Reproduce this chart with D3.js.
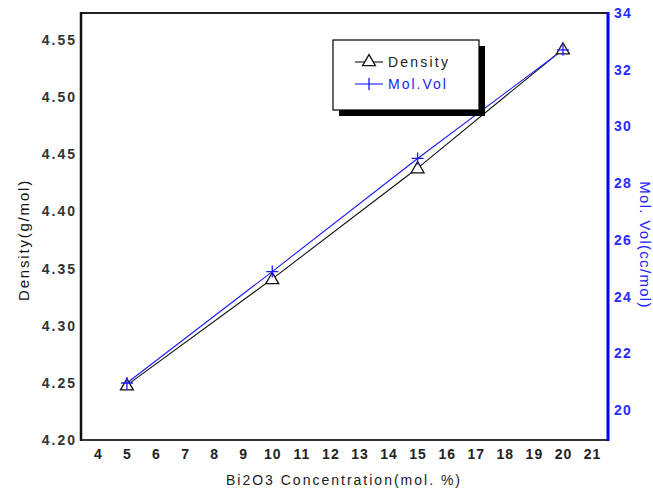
<!DOCTYPE html>
<html>
<head>
<meta charset="utf-8">
<script src="https://cdnjs.cloudflare.com/ajax/libs/d3/7.8.5/d3.min.js"></script>
<style>
  body { margin: 0; background: #fff; }
  svg { display: block; font-family: Arial, "Liberation Sans", sans-serif; }
</style>
</head>
<body>
<svg width="653" height="491"></svg>
<script>
// data
let concentration = [5, 10, 15, 20];
let density = [4.248, 4.341, 4.438, 4.542];
let molVol = [20.95, 24.88, 28.87, 32.70];
let xTicks = [4, 5, 6, 7, 8, 9, 10, 11, 12, 13, 14, 15, 16, 17, 18, 19, 20, 21];
let leftTicks = [4.20, 4.25, 4.30, 4.35, 4.40, 4.45, 4.50, 4.55];
let rightTicks = [20, 22, 24, 26, 28, 30, 32, 34];

let margin = {top: 13, right: 45, bottom: 51, left: 81};
let width = 653 - margin.left - margin.right;
let height = 491 - margin.top - margin.bottom;

var svg = d3.select("svg");
var g = svg.append("g").attr("transform", "translate(" + margin.left + "," + margin.top + ")");

var x = d3.scaleLinear().domain([3.42, 21.55]).range([0, width]);
var yL = d3.scaleLinear().domain([4.2, 4.5737]).range([height, 0]);
var yR = d3.scaleLinear().domain([18.94, 34]).range([height, 0]);

// axes, no tick marks
var xAxis = g.append("g")
  .attr("transform", "translate(0," + height + ")")
  .call(d3.axisBottom(x).tickValues(xTicks).tickSize(0).tickPadding(9).tickFormat(d3.format("d")));
xAxis.select(".domain").remove();
xAxis.selectAll("text").attr("font-size", 14).attr("font-weight", "bold").attr("fill", "#222")
  .attr("letter-spacing", 1).attr("font-family", "Arial, Liberation Sans");

var lAxis = g.append("g")
  .call(d3.axisLeft(yL).tickValues(leftTicks).tickSize(0).tickPadding(4).tickFormat(d3.format(".2f")));
lAxis.select(".domain").remove();
lAxis.selectAll("text").attr("font-size", 14).attr("font-weight", "bold").attr("fill", "#333")
  .attr("letter-spacing", 2).attr("font-family", "Arial, Liberation Sans");

var rAxis = g.append("g")
  .attr("transform", "translate(" + width + ",0)")
  .call(d3.axisRight(yR).tickValues(rightTicks).tickSize(0).tickPadding(6));
rAxis.select(".domain").remove();
rAxis.selectAll("text").attr("font-size", 14).attr("font-weight", "bold").attr("fill", "#2a2aff")
  .attr("letter-spacing", 1.2).attr("font-family", "Arial, Liberation Sans");

// frame
g.append("line").attr("x1", 0).attr("x2", width).attr("y1", 0).attr("y2", 0)
  .attr("stroke", "#222").attr("stroke-width", 2);
g.append("line").attr("x1", 0).attr("x2", width).attr("y1", height).attr("y2", height)
  .attr("stroke", "#333").attr("stroke-width", 2);
g.append("line").attr("x1", 0).attr("x2", 0).attr("y1", -1).attr("y2", height + 1)
  .attr("stroke", "#111").attr("stroke-width", 2.5);
g.append("line").attr("x1", width).attr("x2", width).attr("y1", -1).attr("y2", height + 1)
  .attr("stroke", "#0000ff").attr("stroke-width", 3);

// lines
var densLine = d3.line()
  .x(function(d, i) { return x(concentration[i]); })
  .y(function(d) { return yL(d); });
var volLine = d3.line()
  .x(function(d, i) { return x(concentration[i]); })
  .y(function(d) { return yR(d); });

g.append("path").datum(density)
  .attr("fill", "none").attr("stroke", "#111").attr("stroke-width", 1.1)
  .attr("d", densLine);
g.append("path").datum(molVol)
  .attr("fill", "none").attr("stroke", "#1a1aff").attr("stroke-width", 1.1)
  .attr("d", volLine);

var tri = d3.symbol().type(d3.symbolTriangle).size(72);

g.selectAll("path.tri").data(density).enter().append("path")
  .attr("class", "tri")
  .attr("transform", function(d, i) { return "translate(" + x(concentration[i]) + "," + (yL(d) + 1) + ")"; })
  .attr("d", tri)
  .attr("fill", "#fff").attr("stroke", "#111").attr("stroke-width", 1.3);

g.selectAll("path.plus").data(molVol).enter().append("path")
  .attr("class", "plus")
  .attr("transform", function(d, i) { return "translate(" + x(concentration[i]) + "," + yR(d) + ")"; })
  .attr("d", "M-6,0H6M0,-6V6")
  .attr("fill", "none").attr("stroke", "#1a1aff").attr("stroke-width", 1.3);

// axis titles
svg.append("text")
  .attr("transform", "translate(29,240) rotate(-90)")
  .attr("text-anchor", "middle").attr("font-size", 15).attr("fill", "#111")
  .attr("letter-spacing", 1.8)
  .text("Density(g/mol)");
svg.append("text")
  .attr("transform", "translate(640,245) rotate(90)")
  .attr("text-anchor", "middle").attr("font-size", 15).attr("fill", "#2222ff")
  .attr("letter-spacing", 1.3)
  .text("Mol. Vol(cc/mol)");
svg.append("text")
  .attr("x", 344).attr("y", 485)
  .attr("text-anchor", "middle").attr("font-size", 14).attr("fill", "#222")
  .attr("letter-spacing", 2)
  .text("Bi2O3 Concentration(mol. %)");

// legend
var lg = svg.append("g").attr("transform", "translate(333,40)");
lg.append("rect").attr("x", 6).attr("y", 6).attr("width", 146).attr("height", 70).attr("fill", "#000");
lg.append("rect").attr("x", 0).attr("y", 0).attr("width", 146).attr("height", 70)
  .attr("fill", "#fff").attr("stroke", "#000").attr("stroke-width", 1.2);
lg.append("line").attr("x1", 22).attr("x2", 50).attr("y1", 22).attr("y2", 22)
  .attr("stroke", "#111").attr("stroke-width", 1.1);
lg.append("path").attr("transform", "translate(36,22)").attr("d", tri)
  .attr("fill", "#fff").attr("stroke", "#111").attr("stroke-width", 1.3);
lg.append("text").attr("x", 55).attr("y", 27).attr("font-size", 14).attr("fill", "#222")
  .attr("letter-spacing", 2.2).text("Density");
lg.append("line").attr("x1", 22).attr("x2", 50).attr("y1", 44).attr("y2", 44)
  .attr("stroke", "#1a1aff").attr("stroke-width", 1.1);
lg.append("path").attr("transform", "translate(36,44)").attr("d", "M0,-6V6")
  .attr("stroke", "#1a1aff").attr("stroke-width", 1.3);
lg.append("text").attr("x", 55).attr("y", 49).attr("font-size", 14).attr("fill", "#2222ff")
  .attr("letter-spacing", 2).text("Mol.Vol");
</script>
</body>
</html>
